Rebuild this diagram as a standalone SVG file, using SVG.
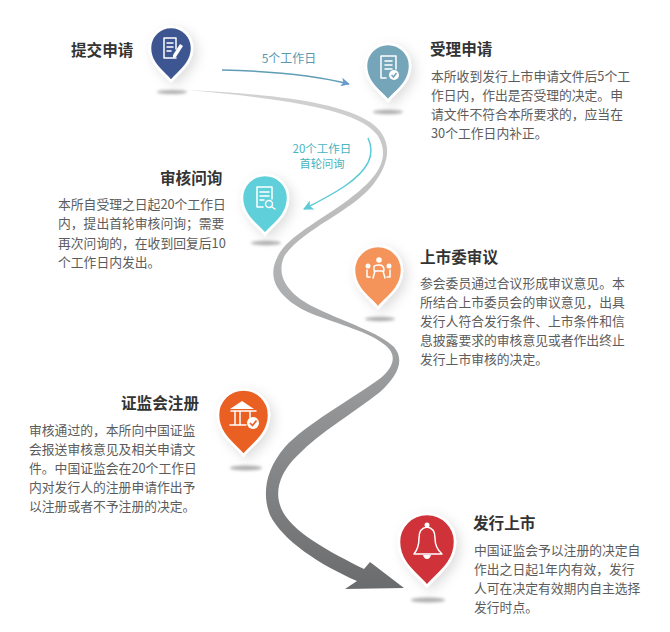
<svg xmlns="http://www.w3.org/2000/svg" width="670" height="632" viewBox="0 0 670 632">
<style>
text{font-family:"Noto Sans CJK SC","Noto Sans",sans-serif}
.t{font-size:15.6px;font-weight:700;fill:#333}
.b{font-size:12.8px;fill:#5c5c5c}
.pin{stroke:#fff;stroke-width:2.5px}
.sh{fill:#b0b0b0;filter:url(#blur)}
.i{fill:none;stroke:#fff;stroke-width:1.5;stroke-linecap:round;stroke-linejoin:round}
.w{fill:#fff}
</style>
<defs>
<linearGradient id="road" gradientUnits="userSpaceOnUse" x1="0" y1="90" x2="0" y2="590">
<stop offset="0" stop-color="#d2d2d2"/><stop offset=".4" stop-color="#aeafb0"/><stop offset="1" stop-color="#6a6b6d"/>
</linearGradient>
<filter id="blur" x="-30%" y="-150%" width="160%" height="400%"><feGaussianBlur stdDeviation="1.8"/></filter>
<filter id="ds" x="-50%" y="-50%" width="220%" height="220%"><feDropShadow dx="4" dy="4" stdDeviation="6" flood-color="#000" flood-opacity=".13"/></filter>
<marker id="a1" viewBox="0 0 10 10" refX="9" refY="5" markerWidth="9" markerHeight="9" markerUnits="userSpaceOnUse" orient="auto"><path d="M0,0L10,5L0,10L2.500,5Z" fill="#6a9bd0"/></marker>
<marker id="a2" viewBox="0 0 10 10" refX="9" refY="5" markerWidth="10" markerHeight="10" markerUnits="userSpaceOnUse" orient="auto"><path d="M0,0L10,5L0,10L2.500,5Z" fill="#5ccbd6"/></marker>
</defs>
<rect width="670" height="632" fill="#fff"/>
<g id="connectors">
<path id="road-path" fill="url(#road)" d="M188,90C262,94 335,100 370,122C392,137 393,160 372,186C350,212 305,228 285,255C276,272 283,293 318,309C345,322 380,333 394,347C405,360 398,376 380,392C355,412 320,432 298,455C280,472 275,490 280,505C287,530 330,552 364,569L370,562L404,588L345,589L357,581C320,565 282,540 270,515C262,495 265,470 285,447C305,425 350,400 378,380C394,368 398,355 385,345C370,332 340,325 310,313C280,299 266,280 277,258C285,238 318,222 348,200C375,180 392,160 378,136C362,112 300,100 188,90Z"/>
<path d="M222,70C265,71 310,74 349,84" fill="none" stroke="#5f9db5" stroke-width="1.500" marker-end="url(#a1)"/>
<path d="M368,138C376,155 368,170 345,186C330,196 318,202 304,209" fill="none" stroke="#5ccbd6" stroke-width="1.500" marker-end="url(#a2)"/>
<text x="289" y="63" text-anchor="middle" font-size="12" fill="#5a97ad">5个工作日</text>
<text x="322" y="153" text-anchor="middle" font-size="11.500" fill="#45b5c0">20个工作日</text>
<text x="322" y="168" text-anchor="middle" font-size="11.300" fill="#45b5c0">首轮问询</text>
</g>
<g id="n1">
<ellipse class="sh" cx="172" cy="92" rx="15" ry="2"/>
<g filter="url(#ds)"><path class="pin" fill="#3e5590" transform="translate(171,48)" d="M0,33C-5.900,25.200 -21,16.800 -21,0A21,21 0 1 1 21,0C21,16.800 5.900,25.200 0,33Z"/></g>
<path class="i" d="M176,49V38H164V58H176M167,43H173M167,47H173M167,51H171"/><path class="w" d="M173,55L180,44L183,46L176,57L173,58Z"/>
<text class="t" x="71" y="56">提交申请</text>
</g>
<g id="n2">
<ellipse class="sh" cx="388" cy="112" rx="15" ry="2.200"/>
<g filter="url(#ds)"><path class="pin" fill="#74a5b8" transform="translate(388,66)" d="M0,34.800C-6.200,26.400 -22,17.600 -22,0A22,22 0 1 1 22,0C22,17.600 6.200,26.400 0,34.800Z"/></g>
<path class="i" d="M386,78H381V56H396V69M385,61H392M385,65H392M385,69H392"/><circle class="w" cx="394" cy="75" r="5"/><path d="M391.500,75L393.500,77L396.500,73" fill="none" stroke="#74a5b8" stroke-width="1.500"/>
<text class="t" x="430" y="55">受理申请</text>
<text class="b" x="431" y="81">本所收到发行上市申请文件后5个工</text>
<text class="b" x="431" y="100">作日内，作出是否受理的决定。申</text>
<text class="b" x="431" y="119">请文件不符合本所要求的，应当在</text>
<text class="b" x="431" y="138">30个工作日内补正。</text>
</g>
<g id="n3">
<ellipse class="sh" cx="266" cy="243" rx="15" ry="2.200"/>
<g filter="url(#ds)"><path class="pin" fill="#5fd0d9" transform="translate(265,198)" d="M0,36.300C-6.400,27.600 -23,18.400 -23,0A23,23 0 1 1 23,0C23,18.400 6.400,27.600 0,36.300Z"/></g>
<path class="i" d="M263,207H257V187H272V199M260,192H269M260,196H269M260,200H264"/><circle class="i" cx="269" cy="204" r="3.500"/><path class="i" d="M272,207L275,209"/>
<text class="t" x="160" y="184">审核问询</text>
<text class="b" x="58" y="209">本所自受理之日起20个工作日</text>
<text class="b" x="58" y="228">内，提出首轮审核问询；需要</text>
<text class="b" x="58" y="248">再次问询的，在收到回复后10</text>
<text class="b" x="58" y="267">个工作日内发出。</text>
</g>
<g id="n4">
<ellipse class="sh" cx="380" cy="319" rx="15" ry="2.200"/>
<g filter="url(#ds)"><path class="pin" fill="#f4945a" transform="translate(378,270)" d="M0,37.900C-6.700,28.800 -24,19.200 -24,0A24,24 0 1 1 24,0C24,19.200 6.700,28.800 0,37.900Z"/></g>
<circle class="w" cx="379" cy="260" r="2.800"/><circle class="w" cx="368" cy="266" r="2.500"/><circle class="w" cx="389" cy="266" r="2.500"/>
<path class="i" stroke-width="1.300" d="M374,270V267Q374,265 379,265Q384,265 384,270M374,271L384,271M375,271L373,278M383,271L385,278M367,270V277H370M390,270V277H387"/>
<text class="t" x="420" y="263">上市委审议</text>
<text class="b" x="420" y="288">参会委员通过合议形成审议意见。本</text>
<text class="b" x="420" y="307">所结合上市委员会的审议意见，出具</text>
<text class="b" x="420" y="326">发行人符合发行条件、上市条件和信</text>
<text class="b" x="420" y="345">息披露要求的审核意见或者作出终止</text>
<text class="b" x="420" y="364">发行上市审核的决定。</text>
</g>
<g id="n5">
<ellipse class="sh" cx="246" cy="468" rx="16" ry="2.400"/>
<g filter="url(#ds)"><path class="pin" fill="#ea5f24" transform="translate(243.500,415)" d="M0,40.300C-7.100,30.600 -25.500,20.400 -25.500,0A25.500,25.500 0 1 1 25.500,0C25.500,20.400 7.100,30.600 0,40.300Z"/></g>
<path class="w" d="M230,409L242,401L254,409Z"/><path class="i" d="M231,411H256M235,412V424M240,412V424M250,412V418M230,425H246"/>
<circle class="w" cx="253" cy="423" r="6"/><path d="M250,423L252.500,425.500L256.500,420.500" fill="none" stroke="#ea5f24" stroke-width="1.700"/>
<text class="t" x="121" y="409">证监会注册</text>
<text class="b" x="29" y="435">审核通过的，本所向中国证监</text>
<text class="b" x="29" y="454">会报送审核意见及相关申请文</text>
<text class="b" x="29" y="473">件。中国证监会在20个工作日</text>
<text class="b" x="29" y="492">内对发行人的注册申请作出予</text>
<text class="b" x="29" y="511">以注册或者不予注册的决定。</text>
</g>
<g id="n6">
<ellipse class="sh" cx="428" cy="600" rx="17" ry="2.500"/>
<g filter="url(#ds)"><path class="pin" fill="#cf3339" transform="translate(427,542)" d="M0,44.200C-7.800,33.600 -28,22.400 -28,0A28,28 0 1 1 28,0C28,22.400 7.800,33.600 0,44.200Z"/></g>
<path class="i" d="M414,554Q419,548 419,538Q419,528 427,527Q435,528 435,538Q435,548 442,554Z"/><circle class="w" cx="427" cy="525" r="2.500"/><path class="w" d="M423,555H431Q430,559 427,559Q424,559 423,555Z"/>
<text class="t" x="473" y="529">发行上市</text>
<text class="b" x="474" y="555">中国证监会予以注册的决定自</text>
<text class="b" x="474" y="574">作出之日起1年内有效，发行</text>
<text class="b" x="474" y="593">人可在决定有效期内自主选择</text>
<text class="b" x="474" y="612">发行时点。</text>
</g>
</svg>
